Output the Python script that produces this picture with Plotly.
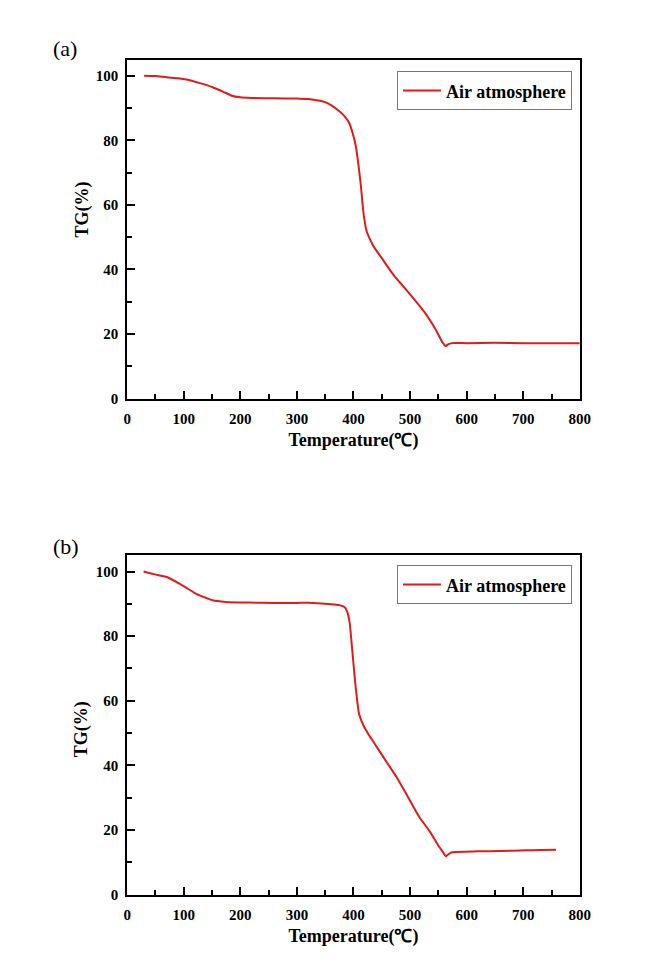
import plotly.graph_objects as go

# ---- data ----
temp_a = [30, 50, 70, 90, 105, 130, 150, 170, 185, 200, 220, 260, 300, 320, 335, 350, 361,
          375, 384, 392, 398, 404, 409, 413, 418, 423, 430, 436, 450, 470, 500, 528, 545,
          557, 563, 567, 574, 600, 650, 700, 750, 800]
tg_a = [100, 99.9, 99.5, 99.2, 98.8, 97.6, 96.5, 95.0, 93.8, 93.3, 93.1, 93.0, 92.9, 92.8,
        92.4, 91.8, 90.8, 89.0, 87.5, 85.5, 82.5, 78.3, 72, 66, 57, 52, 49, 47, 43.5, 38.5,
        32.3, 26.2, 21.5, 17.5, 16.3, 16.8, 17.2, 17.2, 17.3, 17.2, 17.2, 17.2]

temp_b = [29, 47, 70, 93, 108, 122, 140, 151, 174, 214, 260, 300, 329, 361, 375, 384, 389,
          393, 398, 404, 410, 418, 427, 436, 456, 476, 496, 516, 535, 551, 558, 563, 567,
          574, 620, 660, 706, 730, 758]
tg_b = [100, 99.2, 98.3, 96.2, 94.6, 93.1, 91.8, 91.1, 90.6, 90.4, 90.3, 90.3, 90.3, 89.9,
        89.6, 89.0, 87.5, 84.4, 75.2, 64, 55.8, 52.2, 49.5, 47.1, 41.7, 36.4, 30.3, 24.1,
        19.5, 14.9, 13.2, 11.9, 12.4, 13.1, 13.4, 13.5, 13.7, 13.8, 13.9]

series_name = "Air atmosphere"
x_title = "Temperature(℃)"
y_title = "TG(%)"
panel_labels = ["(a)", "(b)"]

W, H = 670, 974
FONT = "Liberation Serif, Times New Roman, serif"
RED = "#e31a1c"

fig = go.Figure()
fig.add_trace(go.Scatter(x=temp_a, y=tg_a, mode="lines", name=series_name,
                         line=dict(color=RED, width=2, shape="spline", smoothing=0.6),
                         xaxis="x", yaxis="y", legend="legend"))
fig.add_trace(go.Scatter(x=temp_b, y=tg_b, mode="lines", name=series_name,
                         line=dict(color=RED, width=2, shape="spline", smoothing=0.6),
                         xaxis="x2", yaxis="y2", legend="legend2"))

xdom = [126 / W, 589 / W]
ydom_a = [1 - 402 / H, 1 - 60 / H]
ydom_b = [1 - 902 / H, 1 - 560 / H]

def xaxis(anchor):
    return dict(domain=xdom, anchor=anchor, range=[0, 800], dtick=100, tick0=0,
                showline=True, linecolor="black", linewidth=2, mirror=True,
                ticks="inside", ticklen=8, tickwidth=2, tickcolor="black",
                minor=dict(ticks="inside", ticklen=5, tickwidth=2, dtick=50, tickcolor="black"),
                showgrid=False, zeroline=False, ticklabelstandoff=5,
                tickfont=dict(family=FONT, size=15, color="black", weight="bold"),
                title=dict(text=x_title, standoff=8,
                           font=dict(family=FONT, size=18, color="black", weight="bold")))

def yaxis(anchor, dom):
    return dict(domain=dom, anchor=anchor, range=[0, 105], dtick=20, tick0=0,
                showline=True, linecolor="black", linewidth=2, mirror=True,
                ticks="inside", ticklen=8, tickwidth=2, tickcolor="black",
                minor=dict(ticks="inside", ticklen=5, tickwidth=2, dtick=10, tickcolor="black"),
                showgrid=False, zeroline=False, ticklabelstandoff=4,
                tickfont=dict(family=FONT, size=15, color="black", weight="bold"))

legend_style = dict(xanchor="right", yanchor="top", bgcolor="rgba(0,0,0,0)",
                    bordercolor="#777777", borderwidth=1,
                    font=dict(family=FONT, size=18, color="black", weight="bold"),
                    itemwidth=38, tracegroupgap=0)

fig.update_layout(
    width=W, height=H, margin=dict(l=0, r=0, t=0, b=0),
    paper_bgcolor="white", plot_bgcolor="white",
    showlegend=True,
    xaxis=xaxis("y"), yaxis=yaxis("x", ydom_a),
    xaxis2=xaxis("y2"), yaxis2=yaxis("x2", ydom_b),
    legend=dict(x=581 / W, y=1 - 72 / H, **legend_style),
    legend2=dict(x=581 / W, y=1 - 570 / H, **legend_style),
    annotations=[
        dict(text=panel_labels[0], x=48 / W, y=1 - 49 / H, xref="paper", yref="paper",
             xanchor="left", yanchor="middle", showarrow=False,
             font=dict(family=FONT, size=22, color="black")),
        dict(text=panel_labels[1], x=48 / W, y=1 - 551 / H, xref="paper", yref="paper",
             xanchor="left", yanchor="middle", showarrow=False,
             font=dict(family=FONT, size=22, color="black")),
        dict(text=y_title, x=80 / W, y=1 - 211 / H, xref="paper", yref="paper",
             textangle=-90, xanchor="center", yanchor="middle", showarrow=False,
             font=dict(family=FONT, size=18, color="black", weight="bold")),
        dict(text=y_title, x=80 / W, y=1 - 735 / H, xref="paper", yref="paper",
             textangle=-90, xanchor="center", yanchor="middle", showarrow=False,
             font=dict(family=FONT, size=18, color="black", weight="bold")),
    ],
)

fig.write_html("out.html")
